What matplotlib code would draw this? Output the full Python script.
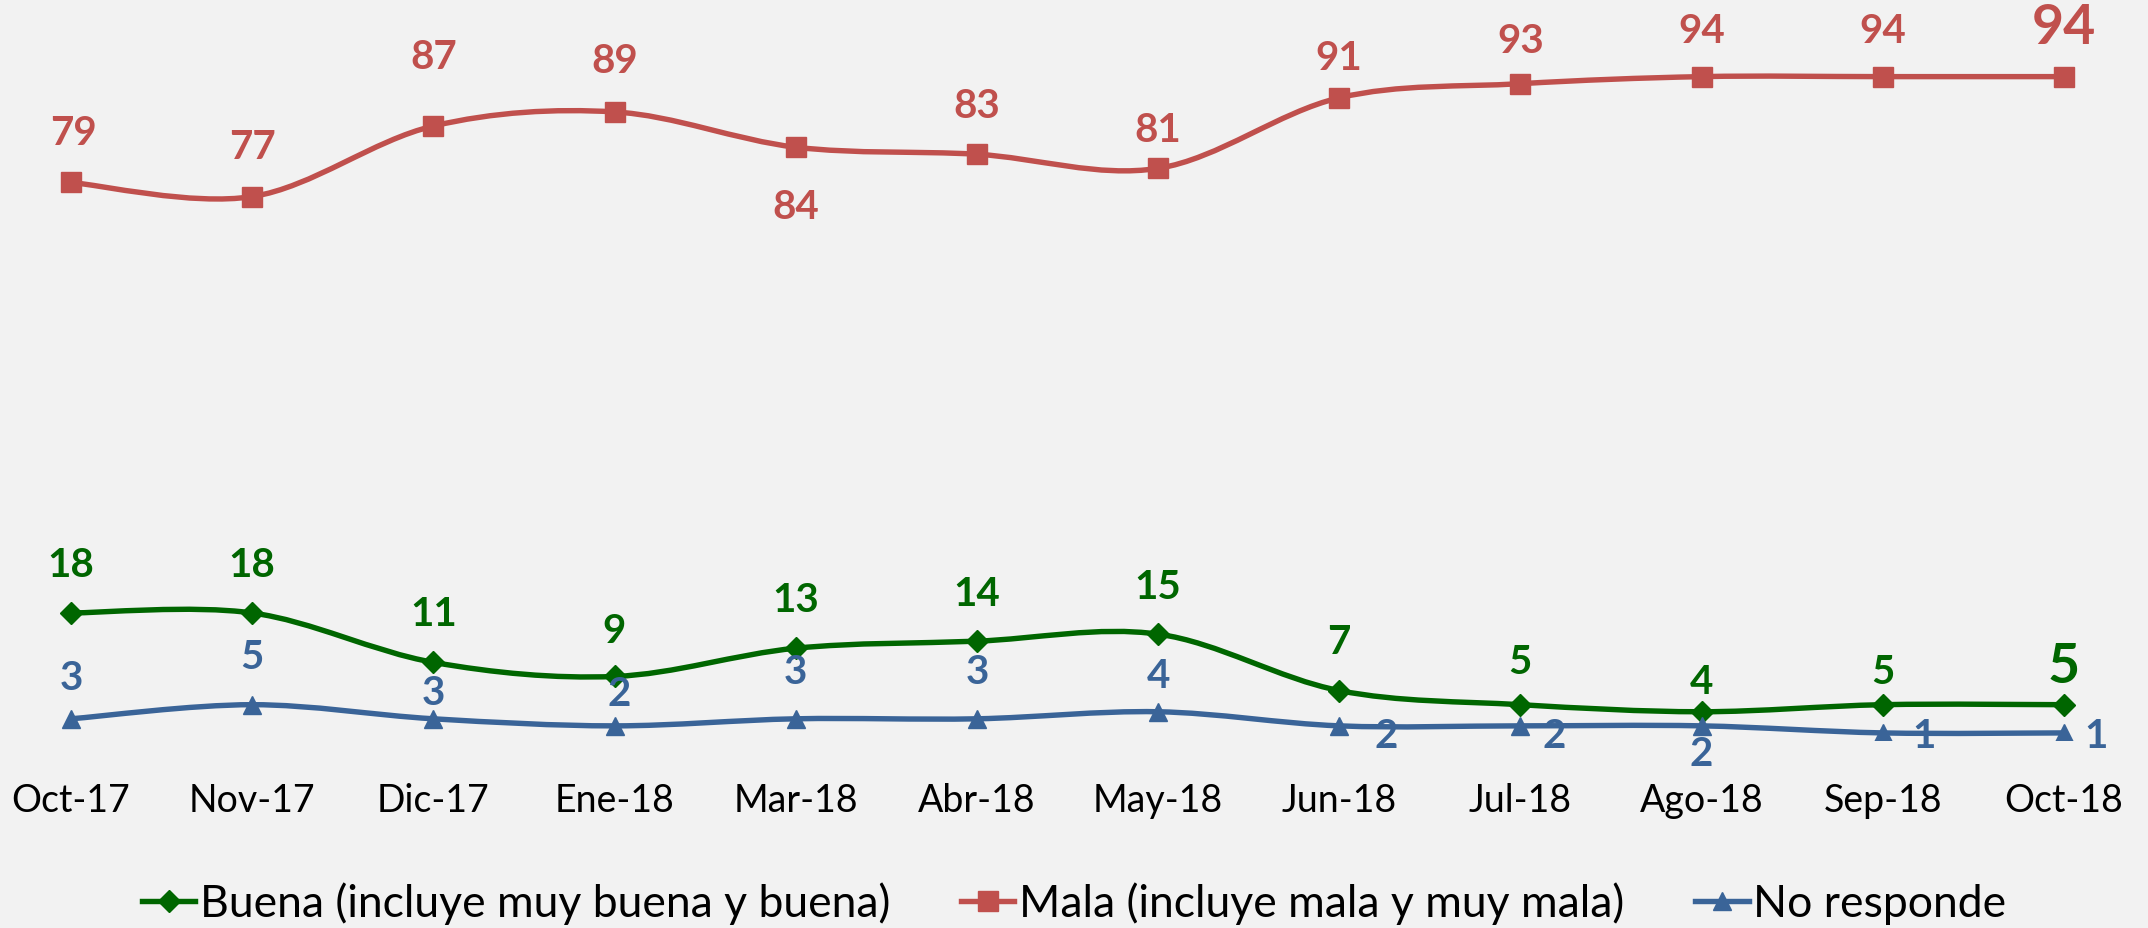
import matplotlib.pyplot as plt
from matplotlib.path import Path
from matplotlib.patches import PathPatch
from matplotlib.lines import Line2D

meses = ['Oct-17', 'Nov-17', 'Dic-17', 'Ene-18', 'Mar-18', 'Abr-18',
         'May-18', 'Jun-18', 'Jul-18', 'Ago-18', 'Sep-18', 'Oct-18']
buena = [18, 18, 11, 9, 13, 14, 15, 7, 5, 4, 5, 5]
mala = [79, 77, 87, 89, 84, 83, 81, 91, 93, 94, 94, 94]
no_responde = [3, 5, 3, 2, 3, 3, 4, 2, 2, 2, 1, 1]

# label offsets (points) relative to the marker
off_buena = [(0, 35), (0, 35), (0, 35), (0, 33), (0, 35), (0, 34),
             (0, 34), (0, 35), (0, 31), (0, 22), (0, 24), (0, 28)]
off_mala = [(2, 36), (0, 36), (0, 50), (0, 37), (0, -43), (0, 35),
            (0, 28), (0, 29), (0, 31), (0, 33), (0, 33), (0, 36)]
off_nr = [(0, 30), (0, 35), (0, 19), (3, 23), (0, 34), (0, 34),
          (0, 26), (34, -7), (24, -7), (0, -20), (30, -2), (23, -2)]

verde = '#006600'
rojo = '#C0504D'
azul = '#3A6498'

plt.rcParams['font.family'] = ['Lato', 'DejaVu Sans']

fig = plt.figure(figsize=(21.48, 9.29), dpi=100)
fig.patch.set_facecolor('#F2F2F2')
ax = fig.add_axes([0, 0.2024, 1, 0.7976])
ax.set_facecolor('#F2F2F2')


def suave(ax, xs, ys, color):
    # bezier smoothing like the office "smoothed line"
    n = len(xs)
    verts = [(xs[0], ys[0])]
    codes = [Path.MOVETO]
    for i in range(n - 1):
        p0 = i - 1 if i > 0 else i
        p3 = i + 2 if i + 2 < n else i + 1
        c1 = (xs[i] + (xs[i + 1] - xs[p0]) / 6, ys[i] + (ys[i + 1] - ys[p0]) / 6)
        c2 = (xs[i + 1] - (xs[p3] - xs[i]) / 6, ys[i + 1] - (ys[p3] - ys[i]) / 6)
        verts += [c1, c2, (xs[i + 1], ys[i + 1])]
        codes += [Path.CURVE4] * 3
    ax.add_patch(PathPatch(Path(verts, codes), facecolor='none', edgecolor=color,
                           lw=3.9, capstyle='round', joinstyle='round', zorder=2))


x = list(range(len(meses)))
series = [(buena, verde, 'D', 11, off_buena), (mala, rojo, 's', 14, off_mala),
          (no_responde, azul, '^', 13, off_nr)]
for vals, col, mk, ms, offs in series:
    suave(ax, x, vals, col)
    ax.plot(x, vals, linestyle='none', marker=mk, color=col,
            markersize=ms, zorder=3)
    for i, v in enumerate(vals):
        big = i == len(vals) - 1 and col != azul
        ax.annotate(str(v), (x[i], v), xytext=offs[i], textcoords='offset points',
                    ha='center', va='center', color=col, fontweight='bold',
                    fontsize=40 if big else 29, zorder=4)

ax.set_xlim(-0.392, 11.464)
ax.set_ylim(0, 105)
ax.set_xticks(x)
ax.set_xticklabels(meses, fontsize=27)
ax.tick_params(axis='x', length=0, pad=30)
ax.set_yticks([])
for s in ax.spines.values():
    s.set_visible(False)

handles = [Line2D([], [], color=verde, lw=3.9, marker='D', markersize=11),
           Line2D([], [], color=rojo, lw=3.9, marker='s', markersize=14),
           Line2D([], [], color=azul, lw=3.9, marker='^', markersize=13)]
labels = ['Buena (incluye muy buena y buena)', 'Mala (incluye mala y muy mala)',
          'No responde']
fig.legend(handles, labels, loc='center', bbox_to_anchor=(0.5, 0.027), ncol=3,
           frameon=False, fontsize=32, handlelength=1.2, handletextpad=0.1,
           columnspacing=1.6)

fig.savefig('out.png', dpi=100, facecolor=fig.get_facecolor())
